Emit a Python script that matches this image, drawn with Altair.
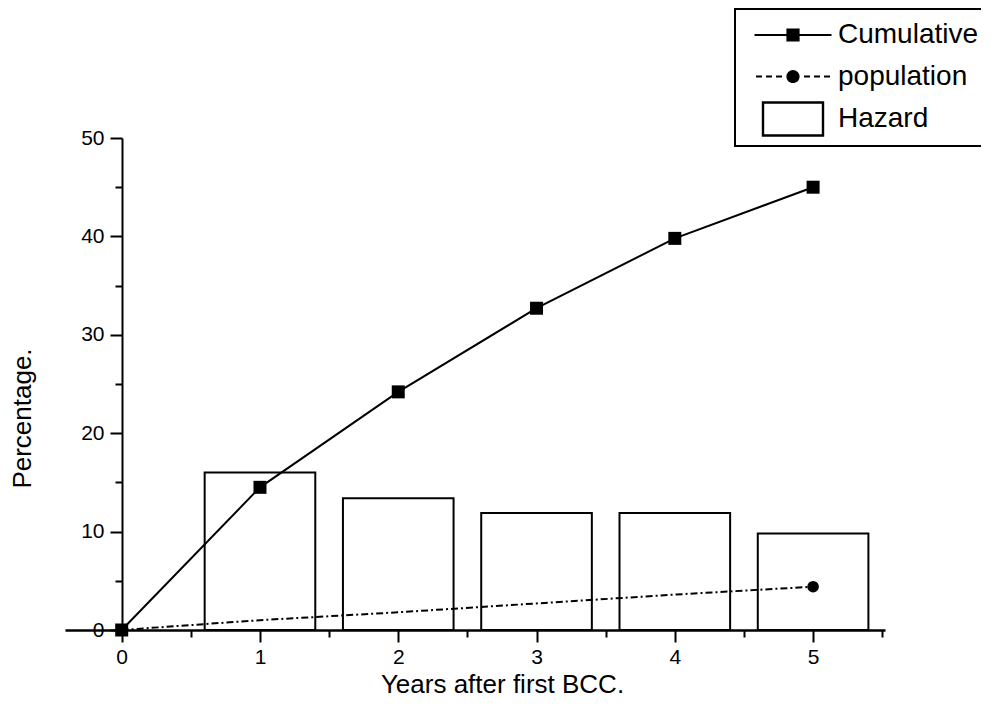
import altair as alt
import pandas as pd

# ---- data ----
years = [0, 1, 2, 3, 4, 5]
cumulative = [0.0, 14.5, 24.2, 32.7, 39.8, 45.0]
population = [0.0, 1.0, 1.8, 2.7, 3.6, 4.4]
population_marked_years = [0, 5]
hazard_years = [1, 2, 3, 4, 5]
hazard = [16.0, 13.4, 11.9, 11.9, 9.8]
x_tick_values = [0, 0.5, 1, 1.5, 2, 2.5, 3, 3.5, 4, 4.5, 5, 5.5]
y_tick_values = [0, 5, 10, 15, 20, 25, 30, 35, 40, 45, 50]
legend_labels = ["Cumulative", "population", "Hazard"]

FONT = "Liberation Sans"
BAR_HALF = 0.4

# legend glyphs drawn as filled custom symbol paths (unit = sqrt(symbolSize)/2 = 20px)
legend_paths = [
    # solid line with a filled square
    "M-1.925,-0.05H1.925V0.05H-1.925Z"
    "M-0.33,-0.33H0.33V0.33H-0.33Z",
    # dashed line with a filled circle
    "M-1.85,-0.05H-1.55V0.05H-1.85Z"
    "M-1.35,-0.05H-1.05V0.05H-1.35Z"
    "M-0.85,-0.05H-0.55V0.05H-0.85Z"
    "M0.55,-0.05H0.85V0.05H0.55Z"
    "M1.05,-0.05H1.35V0.05H1.05Z"
    "M1.55,-0.05H1.85V0.05H1.55Z"
    "M0.33,0A0.33,0.33 0 1,1 -0.33,0A0.33,0.33 0 1,1 0.33,0Z",
    # open rectangle (outer ring minus inner)
    "M-1.56,-0.885H1.56V0.885H-1.56Z"
    "M-1.44,-0.765V0.765H1.44V-0.765Z",
]

df_lines = pd.DataFrame({"year": years, "cumulative": cumulative, "population": population})
df_pop_pts = df_lines[df_lines["year"].isin(population_marked_years)]
df_haz = pd.DataFrame({"year": hazard_years, "hazard": hazard})
df_leg = pd.DataFrame({"series": legend_labels})

x_scale = alt.Scale(domain=[-0.41, 5.52], nice=False, zero=False)
y_scale = alt.Scale(domain=[0, 50], nice=False)

x_axis = alt.Axis(
    values=x_tick_values,
    labelExpr="datum.value % 1 === 0 ? format(datum.value, 'd') : ''",
    tickSize={"condition": {"test": "datum.value % 1 !== 0", "value": 7}, "value": 12},
    tickWidth=2, tickColor="black",
    domainWidth=2.5, domainColor="black",
    labelFont=FONT, labelFontSize=21, labelColor="black", labelPadding=4,
    grid=False,
    title="Years after first BCC.",
    titleFont=FONT, titleFontSize=26, titleFontWeight="normal", titleColor="black",
    titleX=437, titleY=62, titleAlign="center", titleBaseline="alphabetic",
)
y_axis = alt.Axis(
    values=y_tick_values,
    labelExpr="datum.value % 10 === 0 ? format(datum.value, 'd') : ''",
    tickSize={"condition": {"test": "datum.value % 10 !== 0", "value": 7}, "value": 12},
    tickWidth=2, tickColor="black",
    domainWidth=2, domainColor="black",
    labelFont=FONT, labelFontSize=21, labelColor="black", labelPadding=6,
    grid=False, offset=-57,
    title="Percentage.",
    titleFont=FONT, titleFontSize=26, titleFontWeight="normal", titleColor="black",
    titleX=-92, titleY=280, titleAngle=270, titleAlign="center", titleBaseline="alphabetic",
)

bars = alt.Chart(df_haz).transform_calculate(
    x0=f"datum.year - {BAR_HALF}", x1=f"datum.year + {BAR_HALF}"
).mark_bar(fill="white", stroke="black", strokeWidth=2).encode(
    x=alt.X("x0:Q", scale=x_scale, axis=x_axis),
    x2="x1:Q",
    y=alt.Y("hazard:Q", scale=y_scale, axis=y_axis),
    y2=alt.datum(0),
)

pop_line = alt.Chart(df_lines).mark_line(
    color="black", strokeWidth=2, strokeDash=[7, 3, 2, 3]
).encode(
    x=alt.X("year:Q", scale=x_scale, axis=x_axis),
    y=alt.Y("population:Q", scale=y_scale, axis=y_axis),
)

pop_pts = alt.Chart(df_pop_pts).mark_point(
    shape="circle", filled=True, color="black", size=135, opacity=1
).encode(
    x=alt.X("year:Q", scale=x_scale, axis=x_axis),
    y=alt.Y("population:Q", scale=y_scale, axis=y_axis),
)

cum_line = alt.Chart(df_lines).mark_line(color="black", strokeWidth=2).encode(
    x=alt.X("year:Q", scale=x_scale, axis=x_axis),
    y=alt.Y("cumulative:Q", scale=y_scale, axis=y_axis),
)

cum_pts = alt.Chart(df_lines).mark_point(
    shape="square", filled=True, color="black", size=169, opacity=1
).encode(
    x=alt.X("year:Q", scale=x_scale, axis=x_axis),
    y=alt.Y("cumulative:Q", scale=y_scale, axis=y_axis),
)

legend_layer = alt.Chart(df_leg).transform_filter("false").mark_point(
    filled=False, color="black", stroke="black", fill="black", strokeWidth=2, opacity=1
).encode(
    shape=alt.Shape(
        "series:N",
        scale=alt.Scale(domain=legend_labels, range=legend_paths),
        legend=alt.Legend(
            title=None, orient="none", direction="vertical",
            legendX=670, legendY=-129,
            strokeColor="black", fillColor="white", padding=5,
            symbolSize=1600, symbolStrokeWidth=2, symbolStrokeColor="black",
            symbolFillColor="black", symbolOpacity=1,
            symbolOffset=32, labelOffset=24, rowPadding=6.5,
            labelFont=FONT, labelFontSize=28, labelColor="black", labelLimit=400,
        ),
    )
)

chart = alt.layer(bars, pop_line, pop_pts, cum_line, cum_pts, legend_layer).properties(
    width=820, height=492,
    autosize=alt.AutoSizeParams(type="none"),
    padding={"left": 57, "top": 130, "right": 96, "bottom": 75},
    background="white",
).configure_view(stroke="transparent").configure_legend(strokeWidth=2)

chart.save("out.html", embed_options={"renderer": "svg", "actions": False})
